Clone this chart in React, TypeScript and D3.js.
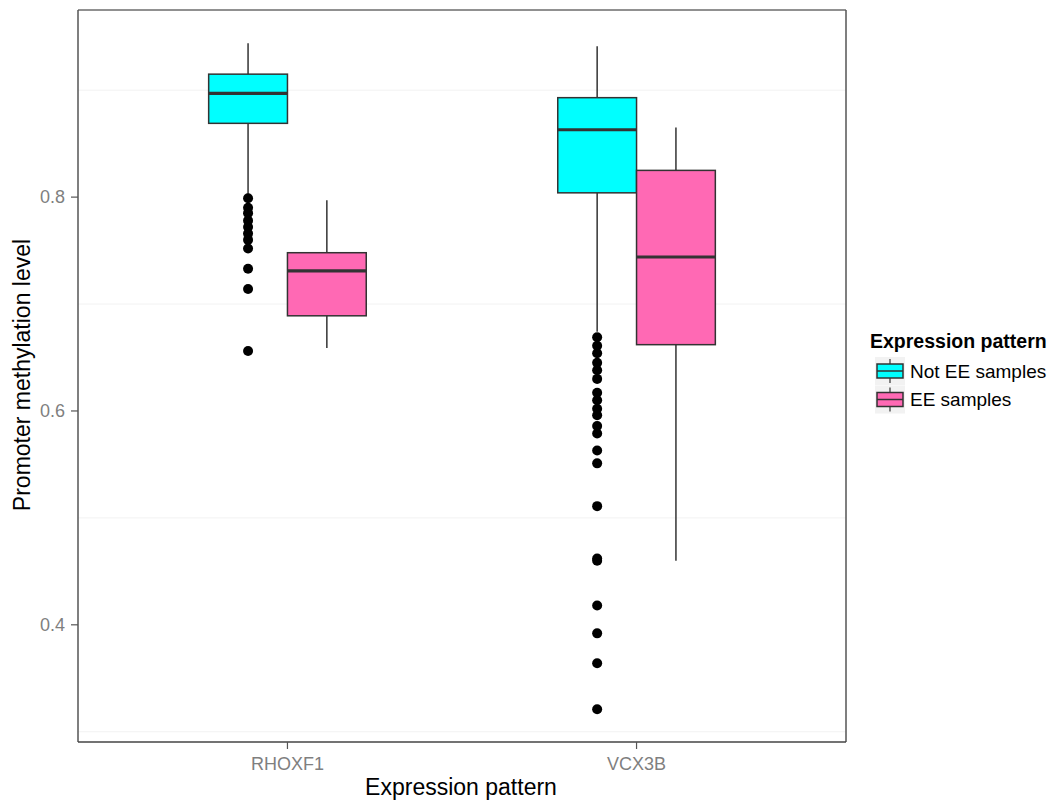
import React from "react";
import * as d3 from "d3";

const genes = ["RHOXF1", "VCX3B"];
const groups = ["Not EE samples", "EE samples"];
const groupColors = ["#00FFFF", "#FF69B4"];

const boxGene = ["RHOXF1", "RHOXF1", "VCX3B", "VCX3B"];
const boxGroup = [0, 1, 0, 1];
const boxLow = [0.801, 0.659, 0.674, 0.46];
const boxQ1 = [0.869, 0.689, 0.804, 0.662];
const boxMed = [0.897, 0.731, 0.863, 0.744];
const boxQ3 = [0.915, 0.748, 0.893, 0.825];
const boxHigh = [0.944, 0.797, 0.941, 0.865];

const outRHOXF1 = [0.799, 0.79, 0.785, 0.778, 0.772, 0.766, 0.76, 0.752, 0.733, 0.714, 0.656];
const outVCX3B = [
  0.669, 0.661, 0.654, 0.645, 0.638, 0.63, 0.617, 0.61, 0.602, 0.596, 0.586, 0.579,
  0.563, 0.551, 0.511, 0.462, 0.46, 0.418, 0.392, 0.364, 0.321,
];

const yTicks = [0.4, 0.6, 0.8];
const yMinor = [0.3, 0.5, 0.7, 0.9];

export default function App() {
  const W = 1053, H = 801;
  const left = 78, right = 846, top = 10, bottom = 742;
  const y = d3.scaleLinear().domain([0.2904, 0.975]).range([bottom, top]);
  const x = d3.scaleLinear().domain([0.4, 2.6]).range([left, right]);
  const bw = (x(2) - x(1)) * 0.2257;
  const font = "Helvetica, Arial, 'Liberation Sans', sans-serif";
  const stroke = "#333333";

  const boxes = boxGene.map((g, i) => {
    const cx = x(genes.indexOf(g) + 1) + (boxGroup[i] === 0 ? -bw / 2 : bw / 2);
    return { cx, i };
  });

  return (
    <svg width={W} height={H} style={{ position: "absolute", left: 0, top: 0 }} fontFamily={font}>
      <rect x={0} y={0} width={W} height={H} fill="white" />
      {yMinor.map((v) => (
        <line key={"mn" + v} x1={left} x2={right} y1={y(v)} y2={y(v)} stroke="#f2f2f2" strokeWidth={1} />
      ))}
      {boxes.map(({ cx, i }) => (
        <g key={"b" + i}>
          <line x1={cx} x2={cx} y1={y(boxHigh[i])} y2={y(boxQ3[i])} stroke={stroke} strokeWidth={1.5} />
          <line x1={cx} x2={cx} y1={y(boxQ1[i])} y2={y(boxLow[i])} stroke={stroke} strokeWidth={1.5} />
        </g>
      ))}
      {boxes.map(({ cx, i }) => (
        <g key={"r" + i}>
          <rect
            x={cx - bw / 2}
            y={y(boxQ3[i])}
            width={bw}
            height={y(boxQ1[i]) - y(boxQ3[i])}
            fill={groupColors[boxGroup[i]]}
            stroke={stroke}
            strokeWidth={1.5}
          />
          <line x1={cx - bw / 2} x2={cx + bw / 2} y1={y(boxMed[i])} y2={y(boxMed[i])} stroke={stroke} strokeWidth={3.2} />
        </g>
      ))}
      {outRHOXF1.map((v, k) => (
        <circle key={"o1" + k} cx={x(1) - bw / 2} cy={y(v)} r={5} fill="black" />
      ))}
      {outVCX3B.map((v, k) => (
        <circle key={"o2" + k} cx={x(2) - bw / 2} cy={y(v)} r={5} fill="black" />
      ))}
      <line x1={left} x2={right} y1={top} y2={top} stroke="#222" strokeWidth={1} />
      <line x1={right} x2={right} y1={top} y2={bottom} stroke="#555" strokeWidth={1.5} />
      <line x1={left} x2={left} y1={top} y2={bottom} stroke="#555" strokeWidth={1.5} />
      <line x1={left} x2={right} y1={bottom} y2={bottom} stroke="#444" strokeWidth={1.5} />
      {yTicks.map((v) => (
        <g key={"t" + v}>
          <line x1={left - 7} x2={left} y1={y(v)} y2={y(v)} stroke="#555" strokeWidth={1.2} />
          <text x={left - 13} y={y(v)} dy="0.35em" textAnchor="end" fontSize={18} fill="#7f7f7f">
            {v.toFixed(1)}
          </text>
        </g>
      ))}
      {genes.map((g, k) => (
        <g key={"g" + g}>
          <line x1={x(k + 1)} x2={x(k + 1)} y1={bottom} y2={bottom + 7} stroke="#555" strokeWidth={1.2} />
          <text x={x(k + 1)} y={bottom + 28} textAnchor="middle" fontSize={18} fill="#7f7f7f">
            {g}
          </text>
        </g>
      ))}
      <text x={(left + right) / 2 - 1} y={795} textAnchor="middle" fontSize={23} fill="black">
        Expression pattern
      </text>
      <text
        transform={`translate(30, ${(top + bottom) / 2 - 1}) rotate(-90)`}
        textAnchor="middle"
        fontSize={23}
        fill="black"
      >
        Promoter methylation level
      </text>
      <text x={870} y={348} fontSize={19.5} fontWeight="bold" fill="black">
        Expression pattern
      </text>
      {groups.map((gname, k) => {
        const ky = 357 + k * 28.5;
        return (
          <g key={"l" + k}>
            <rect x={875} y={ky} width={30} height={28} fill="#f2f2f2" />
            <line x1={890} x2={890} y1={ky + 2} y2={ky + 26} stroke={stroke} strokeWidth={1.2} />
            <rect x={877} y={ky + 7} width={26} height={14} fill={groupColors[k]} stroke={stroke} strokeWidth={1.5} />
            <line x1={877} x2={903} y1={ky + 14} y2={ky + 14} stroke={stroke} strokeWidth={1.5} />
            <text x={910} y={ky + 14} dy="0.35em" fontSize={19} fill="black">
              {gname}
            </text>
          </g>
        );
      })}
    </svg>
  );
}
